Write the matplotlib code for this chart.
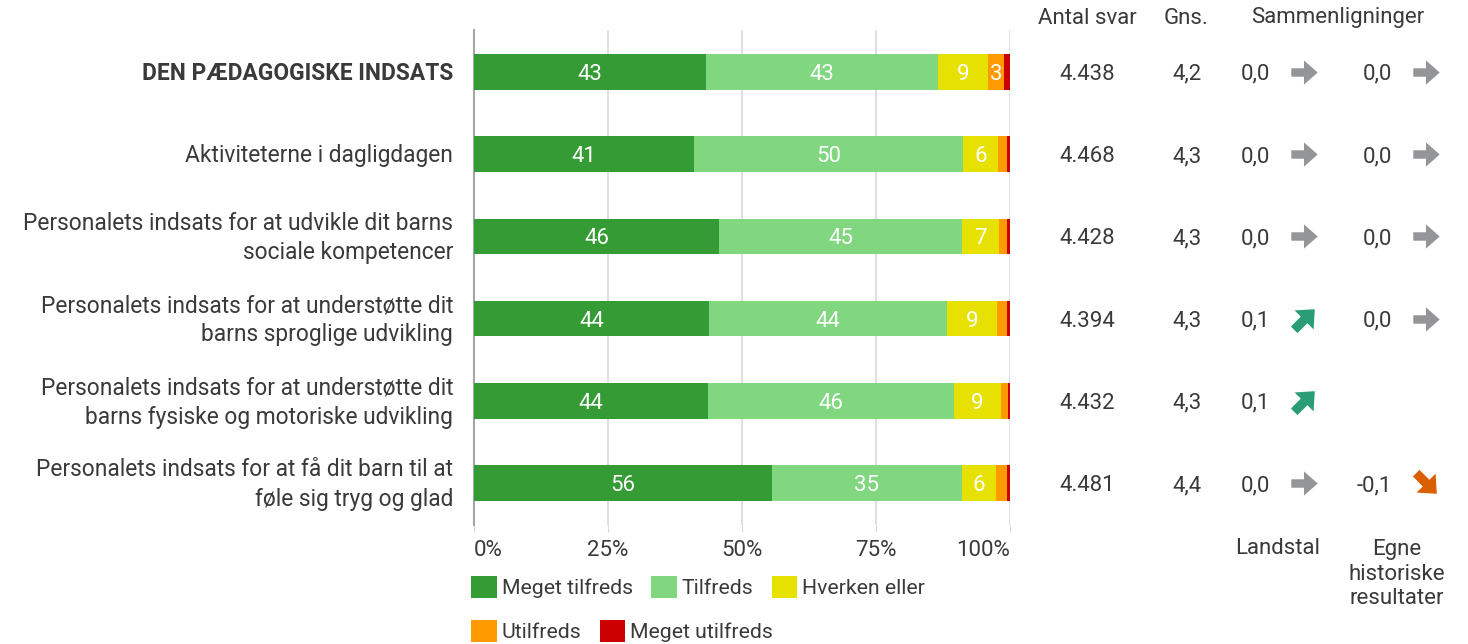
import matplotlib.pyplot as plt
import numpy as np
from matplotlib.markers import MarkerStyle
from matplotlib.path import Path
from matplotlib.transforms import Affine2D

plt.rcParams['font.family'] = ['Roboto', 'DejaVu Sans']

# data
categories = [
    'DEN PÆDAGOGISKE INDSATS',
    'Aktiviteterne i dagligdagen',
    'Personalets indsats for at udvikle dit barns\nsociale kompetencer',
    'Personalets indsats for at understøtte dit\nbarns sproglige udvikling',
    'Personalets indsats for at understøtte dit\nbarns fysiske og motoriske udvikling',
    'Personalets indsats for at få dit barn til at\nføle sig tryg og glad',
]
series_names = ['Meget tilfreds', 'Tilfreds', 'Hverken eller', 'Utilfreds', 'Meget utilfreds']
meget_tilfreds = [43.3, 41.0, 45.7, 43.8, 43.6, 55.6]
tilfreds = [43.3, 50.3, 45.4, 44.4, 46.0, 35.4]
hverken_eller = [9.3, 6.4, 6.8, 9.4, 8.7, 6.4]
utilfreds = [3.0, 1.7, 1.6, 1.9, 1.4, 2.1]
meget_utilfreds = [1.1, 0.6, 0.5, 0.5, 0.3, 0.5]
antal_svar = [4438, 4468, 4428, 4394, 4432, 4481]
gns = [4.2, 4.3, 4.3, 4.3, 4.3, 4.4]
landstal = [0.0, 0.0, 0.0, 0.1, 0.1, 0.0]
egne = [0.0, 0.0, 0.0, 0.0, None, -0.1]

colors = ['#359B34', '#80D780', '#E6E100', '#FF9A00', '#CC0000']
text_col = '#3a3a3a'
fs = 16

W, H = 1468, 644
fig = plt.figure(figsize=(W / 100, H / 100), dpi=100)
ax_left, ax_right, ax_top, ax_bot = 474, 1010, 30, 525
ax = fig.add_axes([ax_left / W, 1 - ax_bot / H, (ax_right - ax_left) / W, (ax_bot - ax_top) / H])

y = np.arange(len(categories))
left = np.zeros(len(categories))
all_series = [meget_tilfreds, tilfreds, hverken_eller, utilfreds, meget_utilfreds]
for name, vals, c in zip(series_names, all_series, colors):
    vals = np.array(vals)
    bars = ax.barh(y, vals, left=left, height=0.43, color=c, label=name, zorder=3)
    for b, v in zip(bars, vals):
        if v >= 2.5:
            ax.text(b.get_x() + b.get_width() / 2, b.get_y() + b.get_height() / 2,
                    f'{round(v):d}', ha='center', va='center_baseline', color='white',
                    fontsize=fs, zorder=4)
    left += vals

ax.set_xlim(0, 100)
ax.set_ylim(len(categories) - 0.49, -0.51)
ax.set_xticks([0, 25, 50, 75, 100])
ax.set_xticklabels(['0%', '25%', '50%', '75%', '100%'])
ax.set_yticks([])
ax.tick_params(axis='x', length=5, color='#d9d9d9', labelsize=fs, labelcolor=text_col, pad=6)
tl = ax.get_xticklabels()
tl[0].set_ha('left')
tl[-1].set_ha('right')
ax.grid(axis='x', color='#d9d9d9', lw=1.2, zorder=0)
for s in ['top', 'right', 'bottom']:
    ax.spines[s].set_visible(False)
ax.spines['left'].set_color('#a6a6a6')
ax.spines['left'].set_linewidth(1.5)

for i, cat in enumerate(categories):
    ax.text(-3.9, i + 0.02, cat, ha='right', va='center', fontsize=16.4, color=text_col,
            fontweight='bold' if i == 0 else 'normal', linespacing=1.36)

# right-hand table
ax2 = fig.add_axes([0, 1 - ax_bot / H, 1, (ax_bot - ax_top) / H], facecolor='none')
ax2.set_xlim(0, W)
ax2.set_ylim(ax.get_ylim())
ax2.axis('off')

arrow_path = Path([(-12.5, -4), (-0.5, -4), (-0.5, -11.5), (12.5, 0), (-0.5, 11.5),
                   (-0.5, 4), (-12.5, 4), (-12.5, -4)], closed=True)


def arrow(xp, yp, v):
    if v > 0.05:
        ang, c = 45, '#2A9D77'
    elif v < -0.05:
        ang, c = -45, '#D95F02'
    else:
        ang, c = 0, '#939598'
    m = MarkerStyle(arrow_path, transform=Affine2D().rotate_deg(ang))
    ax2.scatter([xp], [yp], marker=m, s=(19 if ang == 0 else 21) ** 2, color=c, lw=0)


def fmt(v):
    return f'{v:.1f}'.replace('.', ',')


for i in range(len(categories)):
    ax2.text(1087, i, f'{antal_svar[i]:,}'.replace(',', '.'), ha='center', va='center_baseline',
             fontsize=fs, color=text_col)
    ax2.text(1187, i, fmt(gns[i]), ha='center', va='center_baseline', fontsize=fs, color=text_col)
    if landstal[i] is not None:
        ax2.text(1270, i, fmt(landstal[i]), ha='right', va='center_baseline', fontsize=fs, color=text_col)
        arrow(1304, i, landstal[i])
    if egne[i] is not None:
        ax2.text(1392, i, fmt(egne[i]), ha='right', va='center_baseline', fontsize=fs, color=text_col)
        arrow(1426, i, egne[i])

fig.text(1087 / W, 1 - 18 / H, 'Antal svar', ha='center', va='center', fontsize=fs, color=text_col)
fig.text(1186 / W, 1 - 18 / H, 'Gns.', ha='center', va='center', fontsize=fs, color=text_col)
fig.text(1338 / W, 1 - 18 / H, 'Sammenligninger', ha='center', va='center', fontsize=fs, color=text_col)
fig.text(1278 / W, 1 - 548 / H, 'Landstal', ha='center', va='center', fontsize=fs, color=text_col)
fig.text(1397 / W, 1 - 574 / H, 'Egne\nhistoriske\nresultater', ha='center', va='center',
         fontsize=fs, color=text_col, linespacing=1.22)

# legend in two rows
handles, labels = ax.get_legend_handles_labels()
leg_kw = dict(frameon=False, fontsize=15.3, labelcolor=text_col, handlelength=1.2, handleheight=1.2,
              handletextpad=0.25, columnspacing=0.85, borderaxespad=0, borderpad=0)
fig.legend(handles[:3], labels[:3], ncol=3, loc='center left',
           bbox_to_anchor=(471 / W, 1 - 587 / H), **leg_kw)
fig.legend(handles[3:], labels[3:], ncol=2, loc='center left',
           bbox_to_anchor=(471 / W, 1 - 631 / H), **leg_kw)

fig.savefig('out.png', dpi=100)
